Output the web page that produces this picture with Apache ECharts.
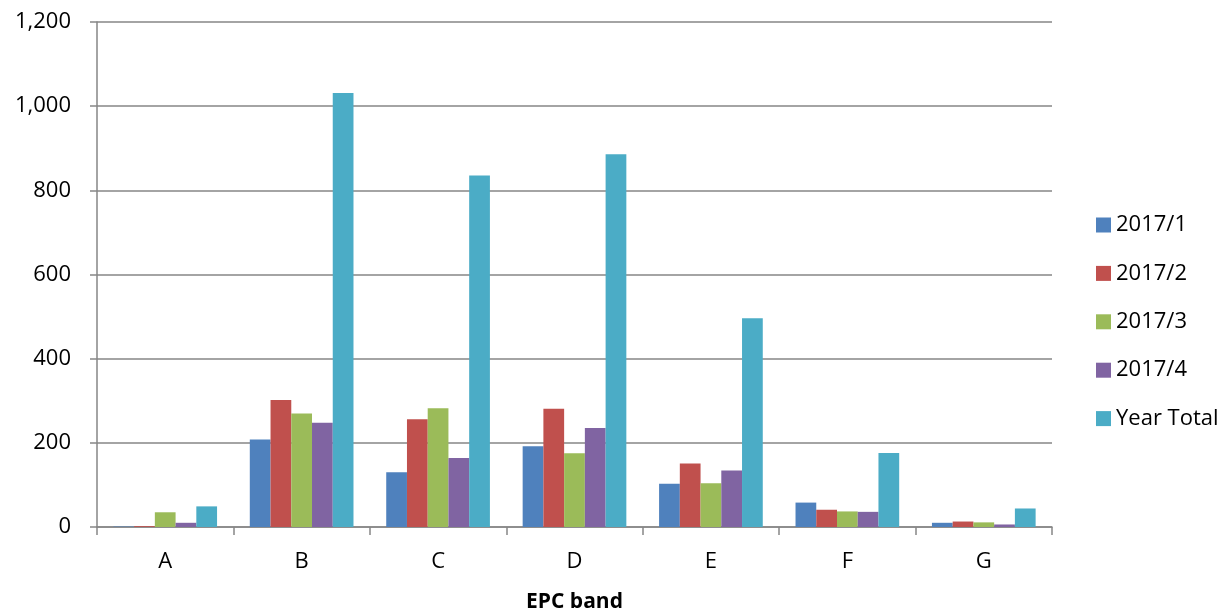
<!DOCTYPE html>
<html>
<head>
<meta charset="utf-8">
<script src="https://cdn.jsdelivr.net/npm/echarts@6/dist/echarts.min.js"></script>
<style>
  html, body { margin: 0; padding: 0; background: #fff; }
  #chart { width: 1232px; height: 612px; }
</style>
</head>
<body>
<div id="chart"></div>
<script>
// EPC bands and counts per quarter, plus the year total
const categories = ['A', 'B', 'C', 'D', 'E', 'F', 'G'];
const q1 = [1, 208, 130, 192, 103, 58, 10];
const q2 = [2, 302, 256, 281, 151, 41, 13];
const q3 = [35, 270, 282, 175, 104, 37, 11];
const q4 = [10, 248, 164, 235, 134, 36, 6];
const yearTotal = [49, 1031, 835, 886, 496, 176, 44];
const seriesNames = ['2017/1', '2017/2', '2017/3', '2017/4', 'Year Total'];
const colors = ['#4F81BD', '#C0504D', '#9BBB59', '#8064A2', '#4BACC6'];

const font = '"Open Sans", "Liberation Sans", sans-serif';
const seriesData = [q1, q2, q3, q4, yearTotal];

const chart = echarts.init(document.getElementById('chart'), null, { renderer: 'canvas' });
chart.setOption({
  animation: false,
  color: colors,
  grid: { left: 97, right: 180, top: 22, bottom: 85, containLabel: false, outerBoundsMode: 'none' },
  legend: {
    orient: 'vertical',
    left: 1096,
    top: 214,
    padding: 0,
    itemWidth: 15,
    itemHeight: 15,
    itemGap: 26.4,
    icon: 'rect',
    textStyle: { fontFamily: font, fontSize: 22, lineHeight: 22, color: '#000' },
    data: seriesNames
  },
  xAxis: {
    type: 'category',
    data: categories,
    name: 'EPC band',
    nameLocation: 'middle',
    nameGap: 65,
    nameTextStyle: { fontFamily: font, fontSize: 21, fontWeight: 'bold', color: '#000' },
    axisLine: { lineStyle: { color: '#868686', width: 1.5 } },
    axisTick: { show: true, length: 8, lineStyle: { color: '#868686', width: 1.5 } },
    axisLabel: { fontFamily: font, fontSize: 22, color: '#000', margin: 24 }
  },
  yAxis: {
    type: 'value',
    min: 0,
    max: 1200,
    interval: 200,
    axisLine: { show: true, lineStyle: { color: '#868686', width: 1.5 } },
    axisTick: { show: true, length: 7, lineStyle: { color: '#868686', width: 1.5 } },
    axisLabel: {
      fontFamily: font, fontSize: 22, color: '#000', margin: 26,
      formatter: v => v.toLocaleString('en-US')
    },
    splitLine: { lineStyle: { color: '#868686', width: 1.5 } }
  },
  series: seriesNames.map((name, i) => ({
    name: name,
    type: 'bar',
    data: seriesData[i],
    barGap: '0%',
    barCategoryGap: '24%',
    itemStyle: { color: colors[i] }
  }))
});
</script>
</body>
</html>
